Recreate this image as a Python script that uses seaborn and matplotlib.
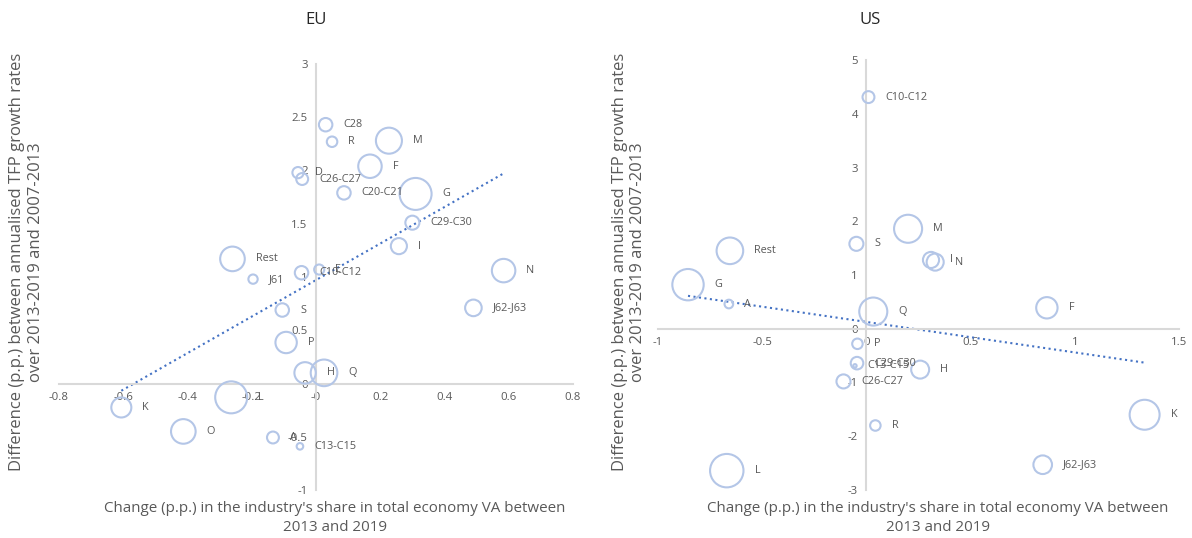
import numpy as np
import pandas as pd
import seaborn as sns
import matplotlib.pyplot as plt
from matplotlib.ticker import FuncFormatter

sns.set_style("white")
plt.rcParams['font.family'] = ['Open Sans', 'DejaVu Sans']

# EU: change in VA share (x), change in TFP growth (y), bubble = VA share
eu_codes = ['C28', 'R', 'M', 'F', 'D', 'C26-C27', 'C20-C21', 'G', 'C29-C30', 'I',
            'Rest', 'J61', 'C10-C12', 'E', 'N', 'S', 'J62-J63', 'P', 'H', 'Q',
            'L', 'K', 'O', 'A', 'C13-C15']
eu_dva = [0.03, 0.05, 0.227, 0.168, -0.056, -0.043, 0.087, 0.31, 0.30, 0.258,
          -0.26, -0.196, -0.045, 0.01, 0.584, -0.105, 0.49, -0.093, -0.034, 0.025,
          -0.264, -0.606, -0.413, -0.134, -0.05]
eu_dtfp = [2.43, 2.27, 2.28, 2.04, 1.98, 1.92, 1.79, 1.78, 1.51, 1.29,
           1.17, 0.98, 1.04, 1.07, 1.06, 0.69, 0.71, 0.385, 0.10, 0.10,
           -0.13, -0.225, -0.45, -0.507, -0.59]
eu_share = [2.3, 1.4, 8.6, 7.0, 1.6, 1.8, 2.3, 13.0, 2.5, 3.3,
            7.7, 1.1, 2.3, 1.3, 7.0, 2.3, 3.5, 5.8, 5.8, 9.0,
            13.0, 5.1, 7.7, 1.8, 0.55]

# US
us_codes = ['C10-C12', 'M', 'S', 'I', 'N', 'Rest', 'G', 'A', 'Q', 'F',
            'P', 'C29-C30', 'C13-C15', 'H', 'C26-C27', 'R', 'K', 'J62-J63', 'L']
us_dva = [0.01, 0.20, -0.048, 0.31, 0.33, -0.655, -0.856, -0.66, 0.033, 0.866,
          -0.043, -0.045, -0.055, 0.258, -0.11, 0.043, 1.335, 0.846, -0.67]
us_dtfp = [4.31, 1.86, 1.58, 1.28, 1.24, 1.45, 0.82, 0.46, 0.32, 0.39,
           -0.28, -0.64, -0.69, -0.76, -0.98, -1.80, -1.60, -2.53, -2.64]
us_share = [1.8, 10.0, 2.5, 3.3, 3.7, 9.0, 12.5, 0.95, 10.0, 5.8,
            1.4, 2.0, 0.15, 4.1, 2.5, 1.4, 11.4, 4.4, 14.2]

K = 40.8  # marker area (pt^2) per unit of share
BUBBLE = '#b4c6e7'
GREY = '#595959'

fig = plt.figure(figsize=(11.92, 5.38), dpi=100)
ax_eu = fig.add_axes([59 / 1192, 48 / 538, 514 / 1192, 426 / 538])
ax_us = fig.add_axes([658 / 1192, 48 / 538, 521 / 1192, 430 / 538])


def bubble_panel(ax, codes, dva, dtfp, share, xlim, ylim, xstep, ystep):
    df = pd.DataFrame({'code': codes, 'dva': dva, 'dtfp': dtfp, 'share': share})
    vmax = df['share'].max()
    sns.scatterplot(data=df, x='dva', y='dtfp', size='share', sizes=(0, K * vmax),
                    size_norm=(0, vmax), facecolor='none', edgecolor=BUBBLE,
                    linewidth=1.5, legend=False, ax=ax, zorder=3)
    sns.regplot(data=df, x='dva', y='dtfp', scatter=False, ci=None, truncate=True,
                line_kws=dict(ls=':', color='#4472c4', lw=1.5), ax=ax)
    for _, r in df.iterrows():
        rad = np.sqrt(K * r['share']) / 2
        ax.annotate(r['code'], (r['dva'], r['dtfp']), xytext=(rad + 8, 0),
                    textcoords='offset points', va='center', ha='left',
                    fontsize=7.8, color=GREY, zorder=4)
    ax.set_xlim(*xlim)
    ax.set_ylim(*ylim)
    ax.set_xticks(np.arange(xlim[0], xlim[1] + 1e-9, xstep))
    ax.set_yticks(np.arange(ylim[0], ylim[1] + 1e-9, ystep))
    fmt = FuncFormatter(lambda v, p: '{:g}'.format(round(v, 2)))
    ax.xaxis.set_major_formatter(fmt)
    ax.yaxis.set_major_formatter(fmt)
    ax.spines['left'].set_position(('data', 0))
    ax.spines['bottom'].set_position(('data', 0))
    for s in ['top', 'right']:
        ax.spines[s].set_visible(False)
    for s in ['left', 'bottom']:
        ax.spines[s].set_color('#d9d9d9')
        ax.spines[s].set_linewidth(1.5)
    ax.tick_params(length=0, labelsize=8.2, labelcolor=GREY, pad=6)
    ax.set_xlabel('')
    ax.set_ylabel('')
    ax.patch.set_alpha(0)


bubble_panel(ax_eu, eu_codes, eu_dva, eu_dtfp, eu_share, (-0.8, 0.8), (-1, 3), 0.2, 0.5)
bubble_panel(ax_us, us_codes, us_dva, us_dtfp, us_share, (-1, 1.5), (-3, 5), 0.5, 1)

ylab = 'Difference (p.p.) between annualised TFP growth rates\nover 2013-2019 and 2007-2013'
xlab = "Change (p.p.) in the industry's share in total economy VA between\n2013 and 2019"

fig.text(316 / 1192, 1 - 20 / 538, 'EU', ha='center', va='center', fontsize=12, color='#262626')
fig.text(870 / 1192, 1 - 20 / 538, 'US', ha='center', va='center', fontsize=12, color='#262626')
for xc in (335, 938):
    fig.text(xc / 1192, 1 - 518 / 538, xlab, ha='center', va='center',
             multialignment='center', fontsize=10.9, color=GREY, linespacing=1.3)
for (xc, yc) in ((27, 262), (629, 262)):
    fig.text(xc / 1192, 1 - yc / 538, ylab, ha='center', va='center', rotation=90,
             multialignment='center', fontsize=12, color=GREY, linespacing=1.25)

fig.savefig('out.png', dpi=100)
